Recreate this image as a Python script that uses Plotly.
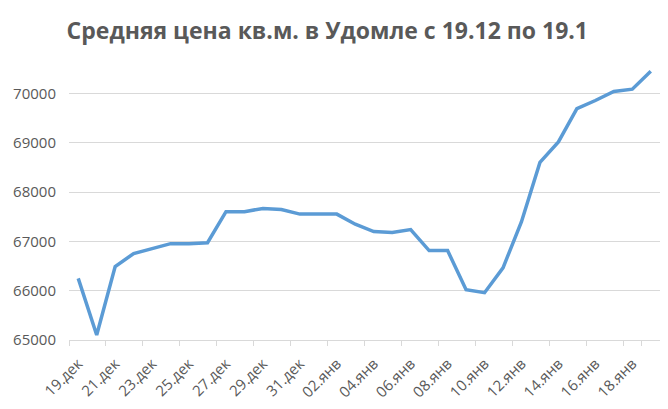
import plotly.graph_objects as go

dates = ["19.дек", "20.дек", "21.дек", "22.дек", "23.дек", "24.дек", "25.дек", "26.дек",
         "27.дек", "28.дек", "29.дек", "30.дек", "31.дек",
         "01.янв", "02.янв", "03.янв", "04.янв", "05.янв", "06.янв", "07.янв", "08.янв",
         "09.янв", "10.янв", "11.янв", "12.янв", "13.янв", "14.янв", "15.янв", "16.янв",
         "17.янв", "18.янв", "19.янв"]
prices = [66250, 65100, 66490, 66755, 66855, 66955, 66955, 66975,
          67605, 67605, 67670, 67650, 67555,
          67555, 67555, 67350, 67200, 67180, 67240, 66815, 66815,
          66020, 65960, 66465, 67400, 68605, 69020, 69695, 69860,
          70045, 70090, 70455]
tick_labels = dates[::2]

fig = go.Figure()
fig.add_trace(go.Scatter(x=dates, y=prices, mode="lines",
                         line=dict(color="#5B9BD5", width=3.5), hoverinfo="x+y"))

fig.update_layout(
    width=668, height=409,
    margin=dict(l=69, r=8, t=69, b=69),
    paper_bgcolor="white", plot_bgcolor="white",
    showlegend=False,
    title=dict(text="<b>Средняя цена кв.м. в Удомле с 19.12 по 19.1</b>",
               x=0.49, xanchor="center", y=0.925, yanchor="middle",
               font=dict(family="Open Sans", size=23, color="#595959")),
    font=dict(family="Open Sans", color="#595959"),
)
fig.update_xaxes(type="category", tickmode="array", tickvals=tick_labels, ticktext=tick_labels,
                 tickson="boundaries", ticks="outside", ticklen=5, tickcolor="#D9D9D9",
                 showline=True, linecolor="#D9D9D9", linewidth=1, showgrid=False,
                 tickangle=-45, tickfont=dict(size=15, color="#595959"),
                 ticklabelstandoff=8,
                 range=[-0.5, 31.5], automargin=False)
fig.update_yaxes(range=[65000, 70500], tick0=65000, dtick=1000, showgrid=True,
                 gridcolor="#D9D9D9", gridwidth=1, zeroline=False, showline=False,
                 tickformat="d", tickfont=dict(size=15, color="#595959"), ticks="",
                 ticklabelstandoff=12, automargin=False)

fig.write_html("out.html", config={"displayModeBar": False},
               post_script="document.body.style.margin='0';")
